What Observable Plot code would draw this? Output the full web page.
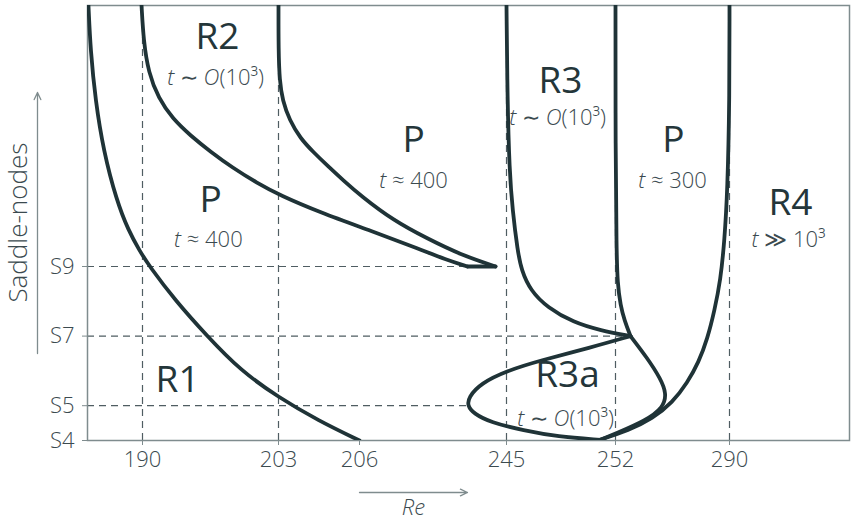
<!DOCTYPE html>
<html><head><meta charset="utf-8">
<script src="https://cdn.jsdelivr.net/npm/d3@7"></script>
<script src="https://cdn.jsdelivr.net/npm/@observablehq/plot@0.6"></script>
<style>
html,body{margin:0;padding:0;background:#fff;}
</style></head><body><div id="chart"></div>
<script>
// Axis ticks
const reTicks = [190, 203, 206, 245, 252, 290];
const saddleTicks = [4, 5, 7, 9];
const reBreaks = [186, 190, 203, 206, 245, 252, 290, 330];

// Boundary curves [Re, saddle-node index]
const curveR1 = [[186.07,16.5],[186.22,15.21],[186.58,13.77],[187.16,12.33],[188.11,10.90],[188.98,10.03],[189.78,9.46],[190.67,9.0],[193.15,8.02],[196.12,7.02],[199.37,6.01],[203.0,5.24],[204.48,4.57],[206.0,4.0]];
const curveR2low = [[189.93,16.5],[190.10,15.49],[190.57,14.57],[191.53,13.83],[192.87,13.25],[194.59,12.76],[196.50,12.30],[198.60,11.84],[200.90,11.41],[203.07,11.04],[204.56,10.55],[208.92,10.03],[222.18,9.49],[228.82,9.20],[234.65,9.0]];
const curveR2cusp = [[234.65,9.0],[242.08,9.0]];
const curveR2high = [[203.0,16.5],[203.0,15.21],[203.04,14.34],[203.15,13.77],[203.41,13.20],[203.81,12.68],[204.30,12.28],[204.81,11.90],[205.41,11.47],[206.27,11.04],[215.02,10.32],[224.04,9.80],[232.80,9.34],[242.08,9.0]];
const curveR3left = [[245.0,16.5],[245.06,13.77],[245.19,11.76],[245.39,10.61],[245.71,9.46],[245.96,8.89],[246.54,8.31],[247.63,7.82],[249.30,7.39],[251.04,7.16],[257.0,7.0]];
const curveR3rightUpper = [[252.0,16.5],[252.0,12.33],[252.33,9.46],[252.67,8.51],[253.67,7.88],[255.0,7.45],[257.0,7.0]];
const curveR3rightLower = [[257.0,7.0],[262.67,6.36],[267.0,5.78],[269.0,5.35],[268.0,4.95],[262.0,4.57],[252.0,4.20],[251.04,4.02]];
const curveR3a = [[257.0,7.0],[250.39,6.67],[247.18,6.30],[245.06,6.01],[238.10,5.64],[234.92,5.24],[234.65,5.0],[236.25,4.78],[240.76,4.52],[246.09,4.29],[248.28,4.11],[251.04,4.02]];
const curveR4 = [[290.0,16.5],[290.0,13.77],[289.33,11.18],[288.33,9.75],[287.0,8.60],[285.0,7.74],[282.67,6.93],[279.67,6.24],[276.0,5.67],[271.0,5.09],[264.33,4.63],[256.33,4.29],[251.04,4.03]];

// Guide lines
const reGuides = [190, 203, 245, 252, 290];
const saddleGuides = [9, 7, 5];
const saddleGuideEnds = [234.65, 257.0, 234.65];

// Region labels
const regionNames = ["R2", "P", "P", "R3", "P", "R4", "R1", "R3a"];
const regionRe = [197.17, 196.5, 220.33, 248.47, 271.33, 310.33, 193.35, 248.92];
const regionS = [15.58, 10.90, 12.62, 14.34, 12.62, 10.81, 5.72, 5.87];
const timeTexts = ["t ∼ O(10³)", "t ≈ 400", "t ≈ 400", "t ∼ O(10³)", "t ≈ 300", "t ≫ 10³", "t ∼ O(10³)"];
const timeRe = [196.98, 196.3, 220.33, 248.28, 271.0, 309.67, 248.79];
const timeS = [14.43, 9.75, 11.47, 13.28, 11.47, 9.75, 4.63];

const curves = [curveR1, curveR2low, curveR2high, curveR3left, curveR3rightUpper, curveR3rightLower, curveR3a, curveR4];
const ink = "#1f3337";
const guide = "#4f5d62";
const axisGray = "#7f8c8e";

const curveMarks = curves.map(c => Plot.line(c, {
  x: d => d[0], y: d => d[1], curve: "basis",
  stroke: ink, strokeWidth: 3.8, strokeLinejoin: "round", strokeLinecap: "round", clip: true
}));

const plot = Plot.plot({
  width: 852,
  height: 522,
  marginLeft: 87,
  marginRight: 3,
  marginTop: 5,
  marginBottom: 82,
  style: {fontFamily: "'Open Sans', sans-serif", fontWeight: 300, fontSize: "22px", color: "#3b4a4f", background: "#fff", overflow: "visible"},
  x: {type: "linear", domain: reBreaks, range: [87, 142, 278, 359, 506, 615, 729, 849], label: null},
  y: {domain: [4, 16.5], label: null},
  marks: [
    Plot.ruleX(reGuides, {x: d => d, y1: 4, y2: 16.5, stroke: guide, strokeWidth: 1.2, strokeDasharray: "7,5"}),
    Plot.ruleY(saddleGuides, {y: d => d, x1: 186, x2: (d, i) => saddleGuideEnds[i], stroke: guide, strokeWidth: 1.2, strokeDasharray: "7,5"}),
    Plot.frame({stroke: axisGray, strokeWidth: 1.5}),
    Plot.axisX({ticks: reTicks, tickFormat: d => String(d), tickSize: 5, tickPadding: 6, stroke: axisGray, fill: "#3b4a4f", fontSize: 22, label: null}),
    Plot.axisY({ticks: saddleTicks, tickFormat: d => "S" + d, tickSize: 5, tickPadding: 8, stroke: axisGray, fill: "#3b4a4f", fontSize: 22, label: null}),
    ...curveMarks,
    Plot.line(curveR2cusp, {x: d => d[0], y: d => d[1], stroke: ink, strokeWidth: 3.8, strokeLinecap: "round"}),
    Plot.text(regionNames, {x: (d, i) => regionRe[i], y: (d, i) => regionS[i], text: d => d, fontSize: 37, fill: "#24363a", fontWeight: 400}),
    Plot.text(timeTexts, {x: (d, i) => timeRe[i], y: (d, i) => timeS[i], text: d => d, fontSize: 22, fill: "#3b4a4f"}),
    // axis name arrows and labels
    Plot.arrow([0], {x1: 206, x2: 234.65, y1: 4, y2: 4, dy: 52, stroke: axisGray, strokeWidth: 1.3, headLength: 9, headAngle: 50}),
    Plot.text(["Re"], {x: 220.3, y: 4, dy: 67, text: d => d, fontStyle: "italic", fontSize: 22, fill: "#3b4a4f"}),
    Plot.arrow([0], {x1: 186, x2: 186, y1: 6.5, y2: 14.0, dx: -50, stroke: axisGray, strokeWidth: 1.3, headLength: 9, headAngle: 50}),
    Plot.text(["Saddle-nodes"], {x: 186, y: 10.26, dx: -69, rotate: -90, text: d => d, fontSize: 26, fill: "#3b4a4f"})
  ]
});

// italicise the variable t and O in the time labels
plot.querySelectorAll("text").forEach(t => {
  const s = t.textContent;
  if (/^t [∼≈≫]/.test(s)) {
    const rest = s.slice(1);
    t.textContent = "";
    const ns = "http://www.w3.org/2000/svg";
    const it = document.createElementNS(ns, "tspan");
    it.setAttribute("font-style", "italic");
    it.textContent = "t";
    t.appendChild(it);
    const oi = rest.indexOf("O(");
    if (oi >= 0) {
      t.appendChild(document.createTextNode(rest.slice(0, oi)));
      const io = document.createElementNS(ns, "tspan");
      io.setAttribute("font-style", "italic");
      io.textContent = "O";
      t.appendChild(io);
      t.appendChild(document.createTextNode(rest.slice(oi + 1)));
    } else {
      t.appendChild(document.createTextNode(rest));
    }
  }
});

document.getElementById("chart").appendChild(plot);
</script>
</body></html>
